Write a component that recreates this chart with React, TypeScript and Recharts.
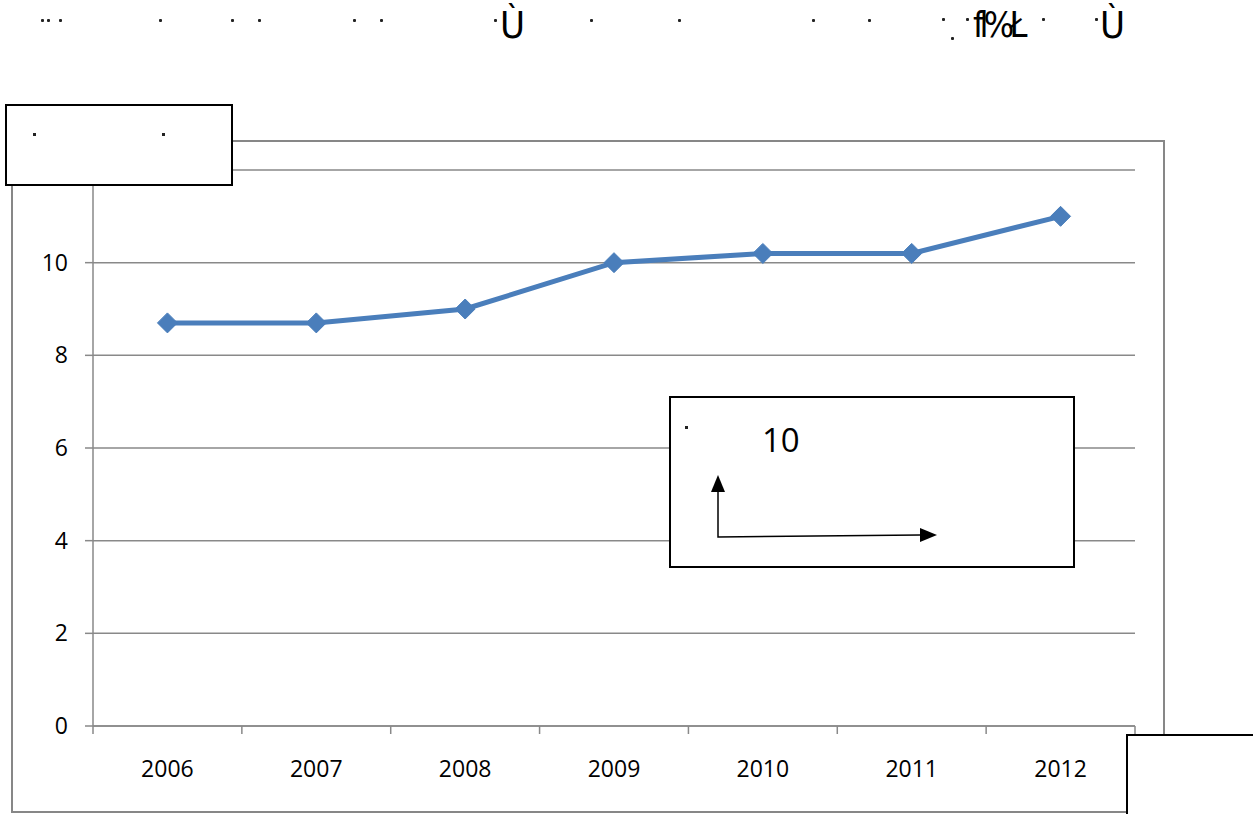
import React from 'react';
import { LineChart, Line, XAxis, YAxis, CartesianGrid } from 'recharts';

const years = ['2006', '2007', '2008', '2009', '2010', '2011', '2012'];
const values = [8.7, 8.7, 9.0, 10.0, 10.2, 10.2, 11.0];
const yTicks = [0, 2, 4, 6, 8, 10, 12];

const data = years.map((y, i) => ({ year: y, value: values[i] }));

const W = 1253;
const H = 814;
const M = { top: 170, right: 118, bottom: 58, left: 0 };
const YW = 93;
const PLOT_W = W - M.left - M.right - YW;
const BAND = PLOT_W / years.length;

const FONT = '"Open Sans", "DejaVu Sans", sans-serif';
const GRID = '#898989';
const LINE = '#4A7EBB';

const XTick = (props: any) => {
  const { x, y, payload, index } = props;
  const left = x - BAND / 2;
  const right = x + BAND / 2;
  return (
    <g>
      <line x1={left} x2={left} y1={y} y2={y + 8} stroke={GRID} strokeWidth={1.5} />
      {index === years.length - 1 && (
        <line x1={right} x2={right} y1={y} y2={y + 8} stroke={GRID} strokeWidth={1.5} />
      )}
      <text x={x} y={y + 51} textAnchor="middle" fontFamily={FONT} fontSize={23} fill="#000">
        {payload.value}
      </text>
    </g>
  );
};

const Diamond = (props: any) => {
  const { cx, cy } = props;
  if (cx == null || cy == null) return null;
  const r = 10;
  return (
    <polygon
      points={`${cx},${cy - r} ${cx + r},${cy} ${cx},${cy + r} ${cx - r},${cy}`}
      fill={LINE}
      stroke={LINE}
      strokeWidth={1}
    />
  );
};

const topDots: { x: number; y: number }[] = [
  { x: 42, y: 20 }, { x: 48, y: 20 }, { x: 60, y: 20 }, { x: 160, y: 20 },
  { x: 232, y: 20 }, { x: 259, y: 20 }, { x: 354, y: 20 }, { x: 381, y: 20 },
  { x: 495, y: 20 }, { x: 591, y: 20 }, { x: 679, y: 20 }, { x: 813, y: 20 },
  { x: 869, y: 20 }, { x: 943, y: 19 }, { x: 952, y: 38 }, { x: 967, y: 19 },
  { x: 1043, y: 19 }, { x: 1096, y: 19 },
];

const Dot = ({ x, y }: { x: number; y: number }) => (
  <div
    style={{
      position: 'absolute',
      left: x - 1,
      top: y - 1,
      width: 2.5,
      height: 2.5,
      background: '#222',
      borderRadius: 1,
    }}
  />
);

const boxStyle = (left: number, top: number, width: number, height: number): React.CSSProperties => ({
  position: 'absolute',
  left,
  top,
  width,
  height,
  boxSizing: 'border-box',
  border: '2px solid #000',
  background: '#fff',
});

const GLYPH_FONT = '"DejaVu Sans Condensed", "DejaVu Sans", sans-serif';

export default function App() {
  return (
    <div
      style={{
        position: 'absolute',
        left: 0,
        top: 0,
        width: W,
        height: H,
        overflow: 'hidden',
        background: '#fff',
        fontFamily: FONT,
      }}
    >
      {/* outer chart frame */}
      <div
        style={{
          position: 'absolute',
          left: 11,
          top: 140,
          width: 1154,
          height: 673,
          boxSizing: 'border-box',
          border: '2px solid #878787',
        }}
      />
      <div style={{ position: 'absolute', left: 0, top: 0 }}>
        <LineChart width={W} height={H} data={data} margin={M}>
          <CartesianGrid vertical={false} stroke={GRID} strokeWidth={1.5} />
          <XAxis
            dataKey="year"
            scale="band"
            tickLine={false}
            tickSize={0}
            tickMargin={0}
            height={30}
            axisLine={{ stroke: GRID, strokeWidth: 1.5 }}
            tick={<XTick />}
            interval={0}
          />
          <YAxis
            width={YW}
            domain={[0, 12]}
            ticks={yTicks}
            interval={0}
            tickSize={8}
            tickMargin={17}
            axisLine={{ stroke: GRID, strokeWidth: 1.5 }}
            tickLine={{ stroke: GRID, strokeWidth: 1.5 }}
            tick={{ fontFamily: FONT, fontSize: 23, fill: '#000' }}
          />
          <Line
            type="linear"
            dataKey="value"
            stroke={LINE}
            strokeWidth={5}
            dot={<Diamond />}
            activeDot={false}
            isAnimationActive={false}
          />
        </LineChart>
      </div>

      {/* top garbled title line */}
      {topDots.map((d, i) => (
        <Dot key={i} x={d.x} y={d.y} />
      ))}
      <div style={{ position: 'absolute', left: 500, top: 0, fontSize: 38, lineHeight: '50px', color: '#000', fontFamily: GLYPH_FONT }}>
        Ù
      </div>
      <div style={{ position: 'absolute', left: 973, top: 0, fontSize: 36, lineHeight: '50px', color: '#000', letterSpacing: -5, fontFamily: GLYPH_FONT }}>
        fl%Ł
      </div>
      <div style={{ position: 'absolute', left: 1100, top: 0, fontSize: 38, lineHeight: '50px', color: '#000', fontFamily: GLYPH_FONT }}>
        Ù
      </div>

      {/* box top-left */}
      <div style={boxStyle(5, 104, 228, 82)}>
        <div style={{ position: 'absolute', left: 26, top: 27, width: 2.5, height: 2.5, background: '#222' }} />
        <div style={{ position: 'absolute', left: 155, top: 27, width: 2.5, height: 2.5, background: '#222' }} />
      </div>

      {/* inner annotation box */}
      <div style={boxStyle(669, 396, 406, 172)}>
        <div style={{ position: 'absolute', left: 14, top: 28, width: 2.5, height: 2.5, background: '#222' }} />
        <div style={{ position: 'absolute', left: 91, top: 22, fontSize: 33, lineHeight: '40px', color: '#000' }}>10</div>
      </div>
      <svg style={{ position: 'absolute', left: 0, top: 0 }} width={W} height={H}>
        <polyline points="718,492 718,537 920,535" fill="none" stroke="#000" strokeWidth={1.5} />
        <polygon points="718,475 711,492 725,492" fill="#000" />
        <polygon points="937,535 920,528 920,542" fill="#000" />
      </svg>

      {/* bottom-right box */}
      <div style={boxStyle(1126, 734, 160, 120)} />
    </div>
  );
}
